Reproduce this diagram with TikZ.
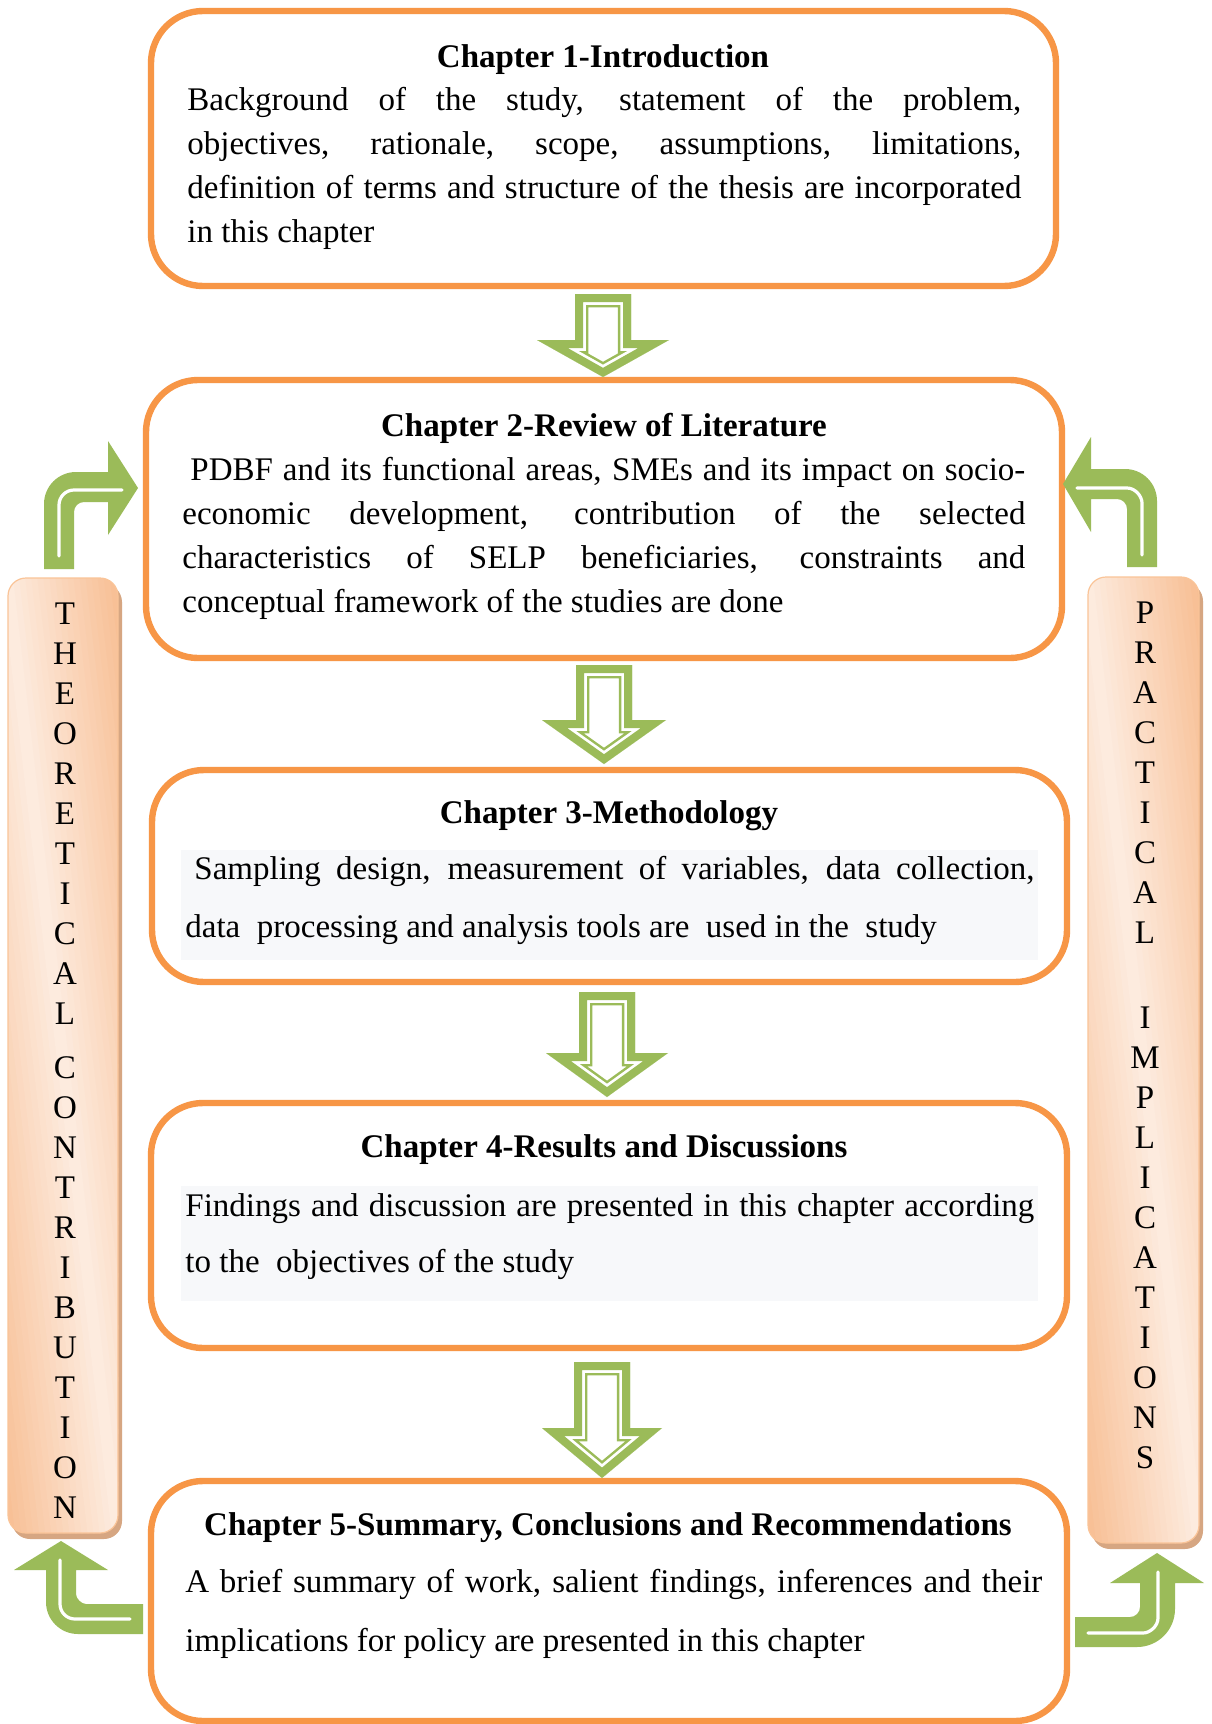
\documentclass[tikz,border=0pt]{standalone}
\usepackage{fontspec}
\setmainfont{Liberation Serif}
\definecolor{boxorange}{RGB}{247,150,70}
\definecolor{arrowgreen}{RGB}{155,187,89}
\definecolor{barlight}{RGB}{253,236,224}
\definecolor{bardark}{RGB}{247,186,140}
\definecolor{barshadow}{RGB}{214,166,130}
\definecolor{barline}{RGB}{250,196,152}
\definecolor{textbg}{RGB}{247,248,250}

% Block arrow pointing down: green rim, thin white gap, thin green inner outline.
% #1 centre x, #2 shaft top, #3 head base, #4 tip, #5 shaft half width, #6 head half width
\newcommand\chapterarrow[6]{%
  \begin{scope}
    \clip (#1-#5,#2) -- (#1+#5,#2) -- (#1+#5,#3) -- (#1+#6,#3) -- (#1,#4) -- (#1-#6,#3) -- (#1-#5,#3) -- cycle;
    \fill[white] (#1-#5,#2) -- (#1+#5,#2) -- (#1+#5,#3) -- (#1+#6,#3) -- (#1,#4) -- (#1-#6,#3) -- (#1-#5,#3) -- cycle;
    \draw[arrowgreen, line width=13.25pt, line join=miter] (#1-#5,#2) -- (#1+#5,#2) -- (#1+#5,#3) -- (#1+#6,#3) -- (#1,#4) -- (#1-#6,#3) -- (#1-#5,#3) -- cycle;
    \draw[white, line width=10.75pt, line join=miter] (#1-#5,#2) -- (#1+#5,#2) -- (#1+#5,#3) -- (#1+#6,#3) -- (#1,#4) -- (#1-#6,#3) -- (#1-#5,#3) -- cycle;
    \draw[arrowgreen, line width=8pt, line join=miter] (#1-#5,#2) -- (#1+#5,#2) -- (#1+#5,#3) -- (#1+#6,#3) -- (#1,#4) -- (#1-#6,#3) -- (#1-#5,#3) -- cycle;
  \end{scope}}

% Side bar: drop shadow, diagonal light streak built from thin strips, thin border.
% #1 name, #2 left, #3 top, #4 right, #5 bottom
\newcommand\sidebarshape[5]{%
  \fill[barshadow, rounded corners=9pt] (#2+4,#3+6) rectangle (#4+4,#5+6);
  \begin{scope}
    \clip[rounded corners=9pt] (#2,#3) rectangle (#4,#5);
    \fill[bardark] (#2,#3) rectangle (#4,#5);
    \foreach \k in {-20,...,19} {
      \pgfmathsetmacro\pct{max(0,100*(1-abs(\k+0.5)/20))}
      \fill[barlight!\pct!bardark, rotate around={6.6:({(#2+#4)/2},{(#3+#5)/2})}]
        ({(#2+#4)/2+\k*6-0.6},#3-150) rectangle ({(#2+#4)/2+\k*6+6.6},#5+150);
    }
  \end{scope}
  \node[draw=barline, line width=0.6pt, rounded corners=9pt, inner sep=0pt,
    minimum width={(#4-#2)*0.5pt}, minimum height={(#5-#3)*0.5pt}]
    (#1) at ({(#2+#4)/2},{(#3+#5)/2}) {};}

\begin{document}
\begin{tikzpicture}[x=0.5pt,y=-0.5pt,
  chapbox/.style={draw=boxorange, line width=3.2pt, rounded corners=26pt, fill=white, inner sep=0pt},
  bodytext/.style={inner sep=0pt, font=\fontsize{16.5}{20}\selectfont},
  titletext/.style={inner sep=0pt, anchor=base, font=\fontsize{16.5}{20}\selectfont\bfseries},
  sideletter/.style={inner sep=0pt, anchor=base, font=\fontsize{16.5}{20}\selectfont},
  highlight/.style={white, line width=1.6pt, line cap=round}
]
\useasboundingbox (0,0) rectangle (1211,1724);
\fill[white] (0,0) rectangle (1211,1724);

% ---- side bars ----
\sidebarshape{theory}{8}{578}{118}{1533}
\sidebarshape{practice}{1088}{577}{1199}{1543}

\foreach \ch [count=\i] in {T,H,E,O,R,E,T,I,C,A,L}
  \node[sideletter] (theoa\i) at (65,{624+40*(\i-1)}) {\ch};
\foreach \ch [count=\i] in {C,O,N,T,R,I,B,U,T,I,O,N}
  \node[sideletter] (theob\i) at (65,{1078+40*(\i-1)}) {\ch};
\foreach \ch [count=\i] in {P,R,A,C,T,I,C,A,L}
  \node[sideletter] (praca\i) at (1145,{623+40*(\i-1)}) {\ch};
\foreach \ch [count=\i] in {I,M,P,L,I,C,A,T,I,O,N,S}
  \node[sideletter] (pracb\i) at (1145,{1028.5+40*(\i-1)}) {\ch};

% ---- chapter boxes ----
\node[chapbox, minimum width=452.5pt, minimum height=137.5pt] (ch1) at (603.5,148.5) {};
\node[chapbox, minimum width=458pt, minimum height=139pt] (ch2) at (604,519) {};
\node[chapbox, minimum width=457.5pt, minimum height=106pt] (ch3) at (609.5,876) {};
\node[chapbox, minimum width=458pt, minimum height=122.5pt] (ch4) at (609,1225.5) {};
\node[chapbox, minimum width=458pt, minimum height=120pt] (ch5) at (609,1601) {};

\fill[textbg] (181,850) rectangle (1038,960);
\fill[textbg] (181,1186) rectangle (1038,1301);

% Chapter 1
\node[titletext] (t1) at (603,67) {Chapter 1-Introduction};
\node[bodytext, anchor=base west] (b1a) at (187,110) {\makebox[417pt][s]{Background of the study, statement of the problem,}};
\node[bodytext, anchor=base west] (b1b) at (187,154) {\makebox[417pt][s]{objectives, rationale, scope, assumptions, limitations,}};
\node[bodytext, anchor=base west] (b1c) at (187,198) {\makebox[417pt][s]{definition of terms and structure of the thesis are incorporated}};
\node[bodytext, anchor=base west] (b1d) at (187,242) {in this chapter};

% Chapter 2
\node[titletext] (t2) at (604,436) {Chapter 2-Review of Literature};
\node[bodytext, anchor=base west] (b2a) at (190,480) {\makebox[417.5pt][s]{PDBF and its functional areas, SMEs and its impact on socio-}};
\node[bodytext, anchor=base west] (b2b) at (182,524) {\makebox[421.5pt][s]{economic development, contribution of the selected}};
\node[bodytext, anchor=base west] (b2c) at (182,568) {\makebox[421.5pt][s]{characteristics of SELP beneficiaries, constraints and}};
\node[bodytext, anchor=base west] (b2d) at (182,612) {conceptual framework of the studies are done};

% Chapter 3
\node[titletext] (t3) at (609,823) {Chapter 3-Methodology};
\node[bodytext, anchor=base west] (b3a) at (194,879) {\makebox[420pt][s]{Sampling design, measurement of variables, data collection,}};
\node[bodytext, anchor=base west] (b3b) at (185,937) {data\ \ processing and analysis tools are\ \ used in the\ \ study};

% Chapter 4
\node[titletext] (t4) at (604,1157) {Chapter 4-Results and Discussions};
\node[bodytext, anchor=base west] (b4a) at (185,1216) {\makebox[424.5pt][s]{Findings and discussion are presented in this chapter according}};
\node[bodytext, anchor=base west] (b4b) at (185,1272) {to the\ \ objectives of the study};

% Chapter 5
\node[titletext] (t5) at (608,1535) {Chapter 5-Summary, Conclusions and Recommendations};
\node[bodytext, anchor=base west] (b5a) at (185,1592) {\makebox[428.5pt][s]{A brief summary of work, salient findings, inferences and their}};
\node[bodytext, anchor=base west] (b5b) at (185,1651) {implications for policy are presented in this chapter};

% ---- down arrows between chapters ----
\chapterarrow{603}{294}{340}{377}{28}{66}
\chapterarrow{604}{665}{720}{764}{28}{62}
\chapterarrow{607}{992}{1053}{1097}{28}{61}
\chapterarrow{602}{1362}{1428}{1478}{28}{60}

% ---- bent arrows linking the side bars ----
% top left: up from the bar, then right into chapter 2
\fill[arrowgreen] (44,569) -- (44,504) .. controls (44,486.3) and (58.3,472) .. (76,472) -- (108,472)
  -- (108,441) -- (138,488) -- (108,535) -- (108,502) -- (84,502)
  .. controls (78.5,502) and (74,506.5) .. (74,512) -- (74,569) -- cycle;
\draw[highlight] (59,556) -- (59,505) .. controls (59,496.7) and (65.7,490) .. (74,490) -- (122,490);

% top right: up from the bar, then left into chapter 2
\fill[arrowgreen] (1157,567) -- (1157,501) .. controls (1157,483.3) and (1142.7,469) .. (1125,469) -- (1091,469)
  -- (1091,437) -- (1063,484) -- (1091,532) -- (1091,499) -- (1117,499)
  .. controls (1122.5,499) and (1127,503.5) .. (1127,509) -- (1127,567) -- cycle;
\draw[highlight] (1142,555) -- (1142,503) .. controls (1142,496.3) and (1135.3,488) .. (1127,488) -- (1077,488);

% bottom left: out of chapter 5, then up into the bar
\fill[arrowgreen] (143,1604) -- (86,1604) .. controls (81.5,1604) and (76,1598.5) .. (76,1594) -- (76,1570)
  -- (108,1570) -- (61,1541) -- (14,1570) -- (46,1570) -- (46,1602)
  .. controls (46,1619.7) and (60.3,1634) .. (78,1634) -- (143,1634) -- cycle;
\draw[highlight] (60,1560) -- (60,1604) .. controls (60,1612.3) and (66.7,1619) .. (75,1619) -- (130,1619);

% bottom right: out of chapter 5, then up into the bar
\fill[arrowgreen] (1075,1617) -- (1130,1617) .. controls (1135.5,1617) and (1140,1612.5) .. (1140,1607) -- (1140,1583)
  -- (1110,1583) -- (1157,1553) -- (1204,1583) -- (1175,1583) -- (1175,1609)
  .. controls (1175,1630) and (1158,1647) .. (1137,1647) -- (1075,1647) -- cycle;
\draw[highlight] (1158,1572) -- (1158,1618) .. controls (1158,1626.3) and (1149.7,1633) .. (1143,1633) -- (1088,1633);
\end{tikzpicture}
\end{document}
